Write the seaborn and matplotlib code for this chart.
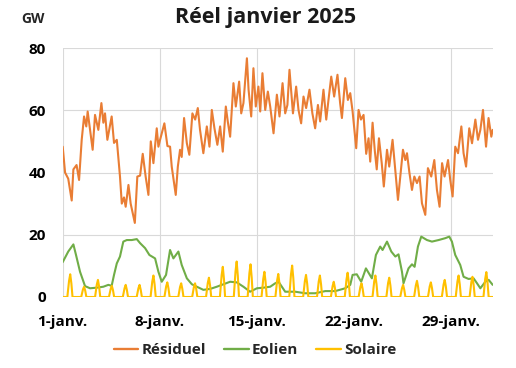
import matplotlib
matplotlib.use("Agg")
import matplotlib.pyplot as plt
from matplotlib.lines import Line2D
import seaborn as sns
import pandas as pd

# Données (jour depuis le 1er janvier 00h, GW)
jours_residuel = [
    0.0, 0.17, 0.4, 0.65, 0.77, 1.0, 1.18, 1.37, 1.54, 1.7,
    1.8, 2.16, 2.33, 2.57, 2.79, 2.93, 3.05, 3.22, 3.53, 3.7,
    3.9, 4.13, 4.26, 4.42, 4.54, 4.74, 4.9, 5.2, 5.38, 5.58,
    5.77, 5.98, 6.18, 6.35, 6.54, 6.78, 6.9, 7.02, 7.33, 7.55,
    7.74, 7.86, 8.15, 8.3, 8.46, 8.58, 8.75, 8.95, 9.13, 9.35,
    9.55, 9.74, 9.9, 10.14, 10.39, 10.58, 10.75, 10.94, 11.15, 11.35,
    11.54, 11.76, 11.9, 12.07, 12.31, 12.48, 12.72, 12.87, 13.03, 13.28,
    13.4, 13.59, 13.75, 13.92, 14.11, 14.24, 14.4, 14.6, 14.79, 14.96,
    15.2, 15.44, 15.63, 15.85, 16.04, 16.2, 16.35, 16.6, 16.83, 17.0,
    17.19, 17.36, 17.55, 17.79, 18.0, 18.2, 18.4, 18.56, 18.8, 19.0,
    19.16, 19.36, 19.57, 19.81, 20.0, 20.13, 20.37, 20.56, 20.73, 20.9,
    21.16, 21.33, 21.5, 21.69, 21.88, 22.05, 22.17, 22.34, 22.5, 22.64,
    22.8, 23.0, 23.15, 23.38, 23.54, 23.78, 23.98, 24.17, 24.34, 24.53,
    24.7, 24.82, 25.0, 25.18, 25.35, 25.54, 25.73, 25.9, 26.14, 26.33,
    26.57, 26.79, 26.98, 27.17, 27.35, 27.53, 27.78, 27.94, 28.11, 28.3,
    28.5, 28.74, 28.9, 29.08, 29.31, 29.51, 29.75, 29.94, 30.11, 30.3,
    30.52, 30.7, 30.9, 31.0,
]
residuel = [
    48.3, 40, 38, 31, 41, 42.4, 37.6, 50.5, 58, 54.8,
    59.6, 47.3, 58.5, 53.7, 62.3, 56, 59, 50.5, 58, 49.5,
    50.5, 38.7, 30, 32, 29, 36, 30, 23.8, 38.7, 39,
    46, 38.7, 32.8, 50, 43, 54.2, 48.3, 50.5, 55.8, 48.5,
    48.3, 41.9, 32.8, 41.9, 47.3, 45, 57.5, 49.4, 45.7, 59,
    57, 60.7, 53.7, 46.2, 54.8, 48.3, 60.1, 54.2, 48.9, 54.8,
    46.7, 61.2, 56.4, 51.5, 68.7, 61.2, 69.2, 59, 62.3, 76.7,
    66.6, 58, 73.5, 61.2, 67.6, 59.6, 71.9, 60.1, 66, 61.2,
    52.6, 65, 58, 68.7, 59, 61.7, 73, 59, 67.6, 60.1,
    55.8, 64.4, 60.7, 66.6, 59, 54.2, 61.7, 56.4, 66.6, 57,
    63.3, 70.8, 64.4, 71.4, 62.3, 57.5, 70.3, 63.3, 65.5, 59.6,
    47.8, 60.1, 57, 58.5, 46, 51, 43.5, 56, 47, 41,
    51, 43, 35.5, 47.3, 41.9, 50.5, 40.8, 31.2, 38.7, 47.3,
    44, 46.2, 39.8, 34.4, 38.7, 36.6, 38.7, 30.1, 26.4, 41.4,
    38.7, 44, 34.4, 29, 43, 38.7, 44, 37.6, 32.3, 48.3,
    46.2, 54.8, 46.2, 41.9, 54.2, 49.4, 57, 50.5, 53.7, 60.1,
    48.3, 57.5, 51.5, 53.7,
]

jours_eolien = [
    0.0, 0.4, 0.77, 0.96, 1.25, 1.61, 1.97, 2.45, 2.93, 3.29,
    3.53, 3.7, 3.9, 4.13, 4.37, 4.62, 4.98, 5.34, 5.58, 5.94,
    6.25, 6.66, 6.9, 7.14, 7.45, 7.74, 7.98, 8.34, 8.58, 8.95,
    9.31, 9.67, 10.14, 10.63, 11.11, 11.59, 12.07, 12.55, 13.03, 13.51,
    14.0, 14.47, 14.96, 15.32, 15.56, 16.04, 16.76, 17.48, 18.2, 18.93,
    19.65, 20.37, 20.73, 20.9, 21.2, 21.52, 21.86, 22.29, 22.58, 22.89,
    23.06, 23.38, 23.69, 23.98, 24.21, 24.46, 24.57, 24.93, 25.18, 25.37,
    25.61, 25.85, 26.26, 26.62, 27.1, 27.58, 27.87, 28.06, 28.3, 28.66,
    28.9, 29.26, 29.62, 29.87, 30.11, 30.47, 30.71, 31.0,
]
eolien = [
    11.2, 14.6, 16.9, 13.5, 8.1, 3.5, 2.8, 3.0, 3.3, 3.9,
    3.6, 7.1, 10.8, 13.0, 17.8, 18.3, 18.3, 18.6, 17.3, 15.7,
    13.5, 12.4, 8.1, 4.9, 7.1, 15.1, 12.4, 14.6, 10.3, 6.0,
    4.1, 3.3, 2.3, 2.6, 3.3, 4.1, 4.9, 4.7, 3.3, 1.7,
    2.8, 3.0, 3.3, 4.4, 4.9, 1.7, 1.7, 1.2, 1.2, 1.9,
    1.9, 2.8, 3.9, 7.1, 7.3, 4.9, 9.2, 6.0, 13.5, 16.2,
    15.1, 17.8, 14.6, 13.0, 13.7, 8.1, 4.4, 9.2, 10.5, 9.7,
    16.2, 19.4, 18.3, 17.8, 18.3, 18.9, 19.4, 17.8, 13.5, 10.3,
    6.5, 5.8, 6.0, 4.4, 2.8, 4.9, 5.5, 3.9,
]

# Solaire : valeurs à 11h, 13h et 15h pour chaque jour (nul la nuit)
heures_solaire = [11, 13, 15]
solaire_jour = [
    [5.2, 7.3, 4.4], [2.4, 3.3, 2.0], [4.0, 5.5, 3.3], [2.6, 3.6, 2.2],
    [2.8, 3.9, 2.3], [2.8, 3.9, 2.3], [5.0, 6.9, 4.1], [3.4, 4.7, 2.8],
    [3.2, 4.4, 2.6], [3.2, 4.4, 2.6], [4.5, 6.2, 3.7], [7.0, 9.7, 5.8],
    [8.2, 11.4, 6.8], [7.6, 10.5, 6.3], [5.8, 8.1, 4.9], [5.3, 7.4, 4.4],
    [7.3, 10.1, 6.1], [5.1, 7.1, 4.3], [5.0, 6.9, 4.1], [3.5, 4.9, 2.9],
    [5.6, 7.8, 4.7], [3.2, 4.4, 2.6], [5.0, 6.9, 4.1], [4.5, 6.2, 3.7],
    [2.8, 3.9, 2.3], [3.7, 5.2, 3.1], [3.4, 4.7, 2.8], [4.0, 5.5, 3.3],
    [5.0, 6.9, 4.1], [4.7, 6.5, 3.9], [5.8, 8.0, 4.8],
]

series = ["Résiduel", "Eolien", "Solaire"]
couleurs = {"Résiduel": "#E97D34", "Eolien": "#70AD47", "Solaire": "#FFC000"}
jours_ticks = [0, 7, 14, 21, 28]
y_ticks = [0, 20, 40, 60, 80]

debut = pd.Timestamp("2025-01-01")

# Solaire en points horaires (0 avant le lever / après le coucher)
jours_sol = [0.0]
solaire = [0.0]
for j, vals in enumerate(solaire_jour):
    jours_sol.append(j + 8 / 24)
    solaire.append(0.0)
    for h, v in zip(heures_solaire, vals):
        jours_sol.append(j + h / 24)
        solaire.append(v)
    jours_sol.append(j + 17 / 24)
    solaire.append(0.0)
jours_sol.append(31.0)
solaire.append(0.0)

frames = []
for nom, jours, vals in [("Résiduel", jours_residuel, residuel),
                         ("Eolien", jours_eolien, eolien),
                         ("Solaire", jours_sol, solaire)]:
    frames.append(pd.DataFrame({
        "date": debut + pd.to_timedelta(jours, unit="D"),
        "GW": vals,
        "serie": nom,
    }))
df = pd.concat(frames, ignore_index=True)

sns.set_style("whitegrid")
plt.rcParams["font.family"] = ["Open Sans", "DejaVu Sans"]

fig = plt.figure(figsize=(5.16, 3.68), dpi=100)
ax = fig.add_axes([62.7 / 516, 71 / 368, 430 / 516, 249 / 368])

sns.lineplot(data=df, x="date", y="GW", hue="serie", hue_order=series,
             palette=couleurs, estimator=None, linewidth=1.5, legend=False, ax=ax)

ax.set_xlim(debut, debut + pd.Timedelta(days=31))
ax.set_ylim(0, 80)
ax.set_yticks(y_ticks)
ticks = [debut + pd.Timedelta(days=d) for d in jours_ticks]
ax.set_xticks(ticks)
ax.set_xticklabels([f"{t.day}-janv." for t in ticks])
ax.set_xlabel("")
ax.set_ylabel("")
for s in ax.spines.values():
    s.set_visible(False)
ax.grid(True, color="#D9D9D9", linewidth=0.8)
ax.tick_params(axis="both", length=0, labelsize=11, colors="black")
ax.tick_params(axis="y", pad=12)
ax.tick_params(axis="x", pad=13)
for lab in ax.get_xticklabels() + ax.get_yticklabels():
    lab.set_fontweight("bold")

fig.text(266 / 516, 1 - 18 / 368, "Réel janvier 2025", ha="center", va="center",
         fontsize=15.5, fontweight="bold", color="#1a1a1a")
fig.text(33 / 516, 1 - 19 / 368, "GW", ha="center", va="center",
         fontsize=10, fontweight="bold")

handles = [Line2D([0], [0], color=couleurs[s], lw=1.7) for s in series]
fig.legend(handles, series, loc="center", bbox_to_anchor=(255 / 516, 1 - 350 / 368),
           ncol=3, frameon=False, handlelength=1.6, handletextpad=0.2,
           columnspacing=1.2, prop={"weight": "bold", "size": 11})

fig.savefig("out.png", dpi=100)
